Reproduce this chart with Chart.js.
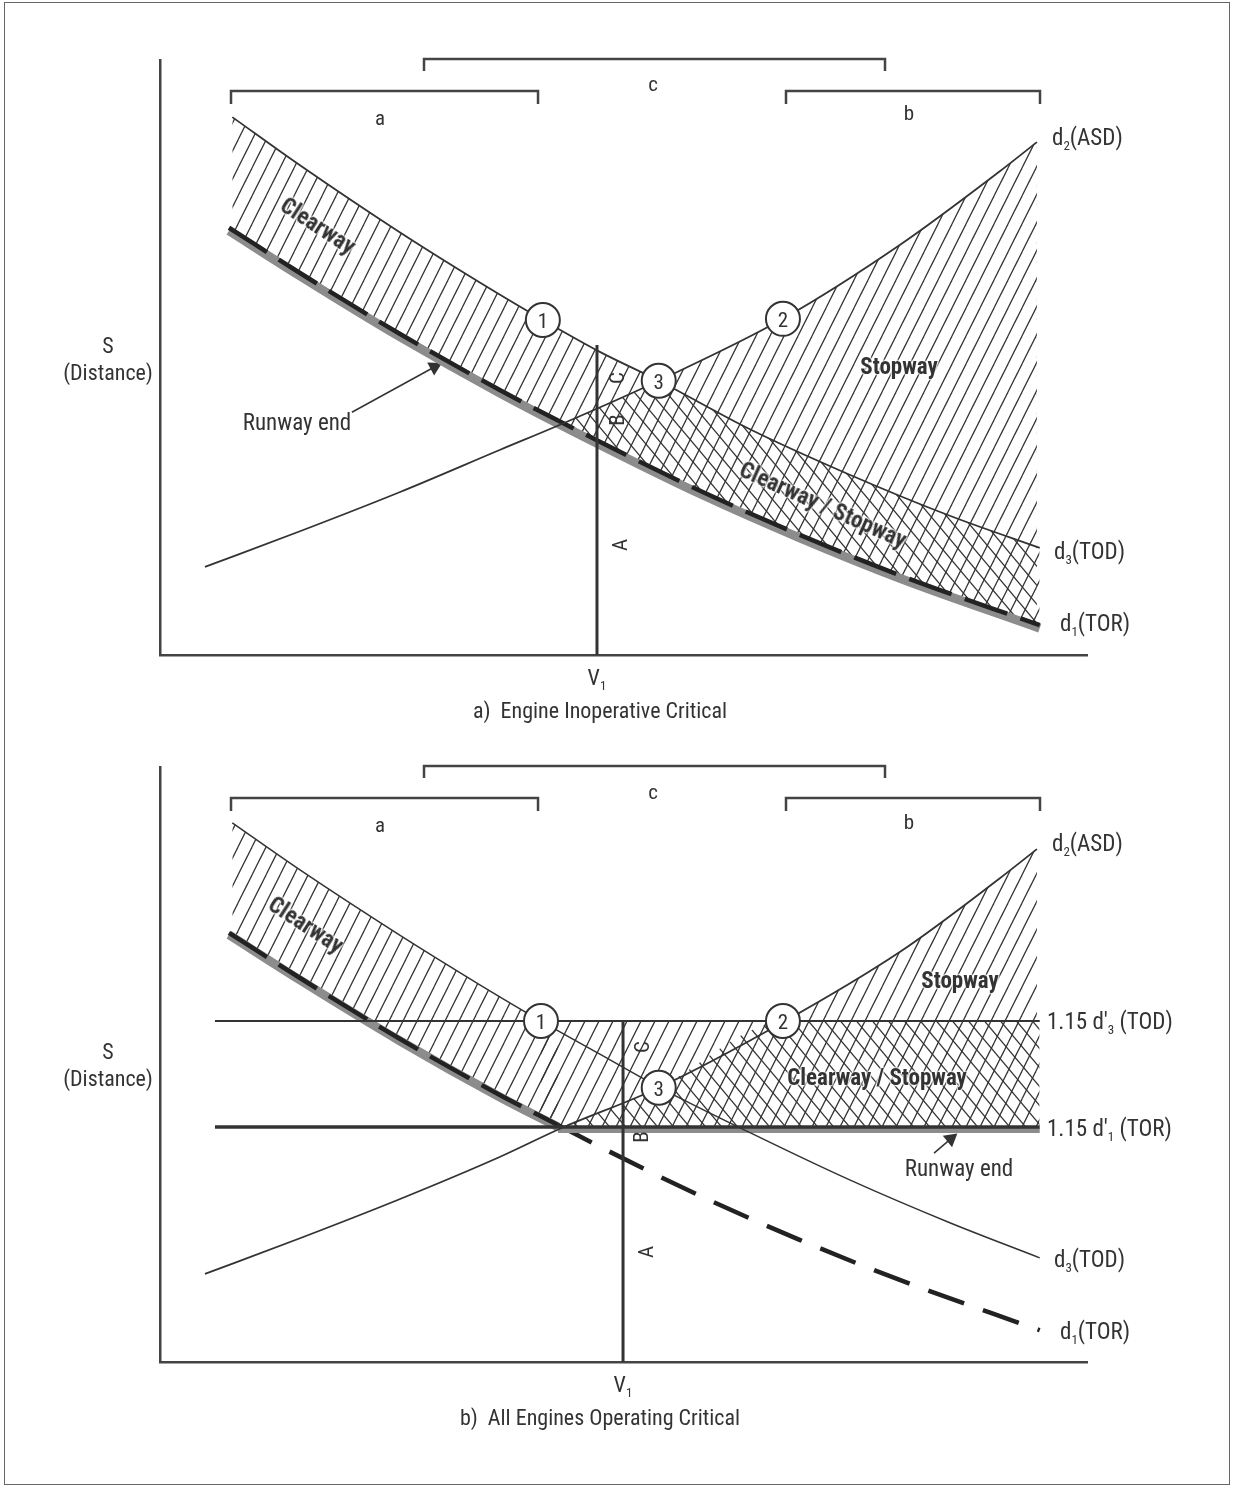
<!DOCTYPE html>
<html><head><meta charset="utf-8">
<script src="https://cdn.jsdelivr.net/npm/chart.js@4.4.1/dist/chart.umd.min.js"></script>
<style>
html,body{margin:0;padding:0;background:#fff}
#page{position:relative;width:1233px;height:1489px;overflow:hidden;font-family:"Roboto Condensed","Liberation Sans Narrow","Arial Narrow",Roboto,sans-serif;color:#333}
.frame{position:absolute;left:4px;top:2px;width:1226px;height:1483px;border:1.5px solid #666;box-sizing:border-box}
canvas{position:absolute;left:0}
.t{position:absolute;white-space:nowrap;font-size:23px;line-height:1;transform:translate(-50%,-50%)}
.l{transform:translate(0,-50%)}
.b{font-weight:bold}
.m{font-size:21px}
.cap{font-size:22px}
.rot{transform:translate(-50%,-50%) rotate(-90deg);font-size:21px}
.halo{text-shadow:0 0 3px #fff,0 0 3px #fff,0 0 2px #fff,0 0 2px #fff,0 0 1px #fff}
sub{font-size:13px;vertical-align:-5px;line-height:0}
.num{font-size:21px}
</style></head>
<body>
<div id="page">
<div class="frame"></div>
<canvas id="cA" width="1233" height="705" style="top:0"></canvas>
<canvas id="cB" width="1233" height="705" style="top:707px"></canvas>

<!-- panel a -->
<div class="t m" style="left:380px;top:118px">a</div>
<div class="t m" style="left:653px;top:84px">c</div>
<div class="t m" style="left:909px;top:113px">b</div>
<div class="t l" style="left:1052px;top:137px">d<sub>2</sub>(ASD)</div>
<div class="t l" style="left:1054px;top:551px">d<sub>3</sub>(TOD)</div>
<div class="t l" style="left:1060px;top:623px">d<sub>1</sub>(TOR)</div>
<div class="t cap" style="left:108px;top:346px">S</div>
<div class="t cap" style="left:108px;top:373px">(Distance)</div>
<div class="t cap" style="left:597px;top:678px">V<sub>1</sub></div>
<div class="t cap" style="left:600px;top:711px">a)&nbsp; Engine Inoperative Critical</div>
<div class="t b halo" style="left:318px;top:226px;transform:translate(-50%,-50%) rotate(33deg)">Clearway</div>
<div class="t" style="left:297px;top:422px">Runway end</div>
<div class="t b halo" style="left:899px;top:366px">Stopway</div>
<div class="t b halo" style="left:823px;top:505px;transform:translate(-50%,-50%) rotate(24deg)">Clearway / Stopway</div>
<div class="t rot" style="left:617px;top:378px">C</div>
<div class="t rot" style="left:617px;top:420px">B</div>
<div class="t rot" style="left:620px;top:545px">A</div>

<!-- panel b -->
<div class="t m" style="left:380px;top:825px">a</div>
<div class="t m" style="left:653px;top:792px">c</div>
<div class="t m" style="left:909px;top:822px">b</div>
<div class="t l" style="left:1052px;top:843px">d<sub>2</sub>(ASD)</div>
<div class="t l" style="left:1047px;top:1021px">1.15 d′<sub>3</sub> (TOD)</div>
<div class="t l" style="left:1047px;top:1128px">1.15 d′<sub>1</sub> (TOR)</div>
<div class="t" style="left:959px;top:1168px">Runway end</div>
<div class="t l" style="left:1054px;top:1259px">d<sub>3</sub>(TOD)</div>
<div class="t l" style="left:1060px;top:1331px">d<sub>1</sub>(TOR)</div>
<div class="t cap" style="left:108px;top:1052px">S</div>
<div class="t cap" style="left:108px;top:1079px">(Distance)</div>
<div class="t cap" style="left:623px;top:1385px">V<sub>1</sub></div>
<div class="t cap" style="left:600px;top:1418px">b)&nbsp; All Engines Operating Critical</div>
<div class="t b halo" style="left:306px;top:925px;transform:translate(-50%,-50%) rotate(33deg)">Clearway</div>
<div class="t b halo" style="left:960px;top:980px">Stopway</div>
<div class="t b halo" style="left:877px;top:1077px">Clearway / Stopway</div>
<div class="t rot" style="left:642px;top:1047px">C</div>
<div class="t rot" style="left:641px;top:1137px">B</div>
<div class="t rot" style="left:646px;top:1252px">A</div>
</div>

<script>
// ---------- DATA (speed units 0-100 on x, distance units 0-100 on y) ----------
// Panel a: Engine Inoperative Critical
const d3A = [{x:7.8,y:90.4},{x:15.1,y:82.3},{x:25.9,y:71.0},{x:34.5,y:62.6},{x:41.3,y:56.3},{x:47.5,y:50.9},{x:53.8,y:46.1},{x:63.7,y:37.9},{x:74.4,y:30.3},{x:85.2,y:23.4},{x:94.9,y:18.0}];
const d2A = [{x:4.85,y:14.8},{x:15.1,y:20.8},{x:25.9,y:27.4},{x:36.7,y:34.5},{x:43.15,y:38.7},{x:53.8,y:46.1},{x:67.2,y:56.5},{x:79.8,y:68.9},{x:90.6,y:81.3},{x:94.6,y:86.2}];
const d1A = [{x:7.44,y:71.3},{x:15.1,y:63.7},{x:25.9,y:53.45},{x:36.7,y:44.0},{x:47.5,y:35.3},{x:58.25,y:27.1},{x:69.0,y:19.7},{x:79.8,y:12.9},{x:94.9,y:4.5}];
const circlesA = [{x:41.3,y:56.3},{x:67.2,y:56.5},{x:53.8,y:46.1}];
const v1A = 47.14, v1TopA = 52.1;
const arrowA = [{x:20.7,y:40.8},{x:29.6,y:48.4}];

// Panel b: All Engines Operating Critical
const d3B = [{x:7.8,y:90.6},{x:15.1,y:82.7},{x:25.9,y:71.7},{x:34.5,y:63.4},{x:41.1,y:57.3},{x:47.5,y:51.7},{x:53.8,y:46.2},{x:63.7,y:38.5},{x:74.4,y:30.6},{x:85.2,y:23.4},{x:94.9,y:17.5}];
const d2B = [{x:4.85,y:14.8},{x:15.1,y:20.8},{x:25.9,y:27.4},{x:36.7,y:34.5},{x:43.15,y:39.2},{x:53.8,y:46.1},{x:67.2,y:57.1},{x:79.8,y:68.9},{x:90.6,y:81.3},{x:94.6,y:86.2}];
const d1B = [{x:7.44,y:71.8},{x:15.1,y:64.2},{x:25.9,y:53.95},{x:36.7,y:44.5},{x:42.93,y:39.5},{x:47.5,y:35.8},{x:58.25,y:27.6},{x:69.0,y:20.2},{x:79.8,y:13.45},{x:94.9,y:5.0}];
const tod115 = 57.31, tor115 = 39.5;           // 1.15 d'3 (TOD), 1.15 d'1 (TOR)
const limitsB = [5.93, 94.9];                   // x extent of the 1.15 lines
const runwayEndB = 42.93;                       // where d1 meets 1.15 d'1
const circlesB = [{x:41.1,y:57.31},{x:67.2,y:57.31},{x:53.8,y:46.1}];
const v1B = 49.95;
const arrowB = [{x:83.5,y:35.1},{x:85.3,y:37.5}];

// Ranges a, b, c (x units)
const rangeA = [7.66, 40.78], rangeC = [28.48, 78.21], rangeB = [67.53, 94.93];
const circleLabels = ['1','2','3'];

// ---------- helpers ----------
const INK = '#333', GRAY = '#8c8c8c', NONE = 'rgba(0,0,0,0)';
function hatch(ctx, w, h, dir, bg){
  const c = document.createElement('canvas'); c.width = w; c.height = h;
  const g = c.getContext('2d');
  if (bg){ g.fillStyle = bg; g.fillRect(0,0,w,h); }
  g.strokeStyle = INK; g.lineWidth = 1.25;
  for (const ox of [-w,0,w]) for (const oy of [-h,0,h]){
    g.beginPath();
    if (dir === '/'){ g.moveTo(ox, oy+h); g.lineTo(ox+w, oy); }
    else { g.moveTo(ox, oy); g.lineTo(ox+w, oy+h); }
    g.stroke();
  }
  return ctx.createPattern(c, 'repeat');
}
const shiftPlugin = {
  id:'shiftY',
  beforeDatasetDraw(chart, args){ const s = chart.data.datasets[args.index].shiftY; if (s){ chart.ctx.save(); chart.ctx.translate(0, s); } },
  afterDatasetDraw(chart, args){ if (chart.data.datasets[args.index].shiftY) chart.ctx.restore(); }
};
function bracket(r, level, drop){
  return {data:[{x:r[0],y:level-drop},{x:r[0],y:level},{x:r[1],y:level},{x:r[1],y:level-drop}],
    borderColor:'#444', borderWidth:2.5, fill:false, clip:false, borderJoinStyle:'miter'};
}
function brackets(){ return [bracket(rangeA,94.8,2.2), bracket(rangeC,100.15,2.0), bracket(rangeB,94.8,2.2)]; }
function arrow(data, rot){
  return {data, borderColor:INK, borderWidth:1.5, fill:false, clip:false,
    pointRadius:[0,7], pointStyle:'triangle', pointRotation:rot, pointBackgroundColor:INK, pointBorderColor:INK};
}
function circles(data){
  return {data, showLine:false, fill:false, clip:false, pointRadius:17, pointHoverRadius:17,
    pointBackgroundColor:'#fff', pointBorderColor:INK, pointBorderWidth:2};
}
const axis = {type:'linear', min:0, max:100, grid:{display:false, drawTicks:false}, ticks:{display:false},
  border:{display:true, color:'#444', width:2.5}};
function build(id, datasets){
  return new Chart(document.getElementById(id), {
    type:'line', data:{datasets},
    options:{responsive:false, animation:false, events:[], devicePixelRatio:1,
      layout:{padding:{left:160, right:146, top:60, bottom:50}},
      elements:{point:{radius:0}, line:{fill:false}},
      plugins:{legend:{display:false}, tooltip:{enabled:false}, filler:{drawTime:'beforeDatasetsDraw'}},
      scales:{x:axis, y:axis}},
    plugins:[shiftPlugin]
  });
}
function placeNumbers(chart, pts, top){
  const page = document.getElementById('page');
  pts.forEach((p,i)=>{
    const d = document.createElement('div');
    d.className = 't num';
    d.textContent = circleLabels[i];
    d.style.left = chart.scales.x.getPixelForValue(p.x) + 'px';
    d.style.top = (top + chart.scales.y.getPixelForValue(p.y) + 1) + 'px';
    page.appendChild(d);
  });
}
const curve = {cubicInterpolationMode:'monotone'};

// ---------- panel a ----------
const ctxA = document.getElementById('cA').getContext('2d');
const slashA = hatch(ctxA, 14, 28, '/'), slashWA = hatch(ctxA, 14, 28, '/', '#fff'), backA = hatch(ctxA, 16, 19, '\\');
const chartA = build('cA', [
  circles(circlesA),                                                                         // 0
  {data:[{x:v1A,y:0},{x:v1A,y:v1TopA}], borderColor:INK, borderWidth:3, fill:false},          // 1
  {...curve, data:d3A, borderColor:INK, borderWidth:1.8, fill:{target:6, above:slashA, below:NONE}}, // 2 clearway
  {...curve, data:d2A, borderColor:INK, borderWidth:1.8, fill:{target:2, above:slashWA, below:NONE}}, // 3 stopway
  {...curve, data:d2A, borderColor:NONE, borderWidth:1, fill:{target:6, above:backA, below:NONE}},   // 4 cross
  {...curve, data:d1A, borderColor:'#222', borderWidth:4.5, borderDash:[45,14], fill:false, shiftY:-3}, // 5
  {...curve, data:d1A, borderColor:GRAY, borderWidth:9, fill:false},                          // 6
  ...brackets(),
  arrow(arrowA, 62)
]);
placeNumbers(chartA, circlesA, 0);

// ---------- panel b ----------
const ctxB = document.getElementById('cB').getContext('2d');
const slashB = hatch(ctxB, 14, 28, '/'), backB = hatch(ctxB, 16, 19, '\\');
const h1B = [{x:limitsB[0],y:tor115},{x:limitsB[1],y:tor115}];
const h3B = [{x:limitsB[0],y:tod115},{x:limitsB[1],y:tod115}];
const h3RightB = [{x:circlesB[0].x,y:tod115},{x:limitsB[1],y:tod115}];            // from point 1 to the right
const crossTopB = [...d2B.filter(p => p.x <= circlesB[1].x), {x:limitsB[1],y:tod115}]; // d2 up to point 2, then 1.15 d'3
const d1LeftB = d1B.filter(p => p.x <= runwayEndB);                                 // d1 up to the runway end
const chartB = build('cB', [
  circles(circlesB),                                                                          // 0
  {data:[{x:v1B,y:0},{x:v1B,y:tod115}], borderColor:INK, borderWidth:3, fill:false},           // 1
  {data:h1B, borderColor:INK, borderWidth:3.5, fill:false},                                    // 2
  {...curve, data:d2B, borderColor:INK, borderWidth:1.8, fill:{target:5, above:slashB, below:NONE}}, // 3 stopway
  {...curve, data:d3B, borderColor:INK, borderWidth:1.5, fill:{target:9, above:slashB, below:NONE}},  // 4 clearway
  {data:h3B, borderColor:INK, borderWidth:2, fill:false},                                      // 5
  {data:h3RightB, borderColor:NONE, borderWidth:1, fill:{target:2, above:slashB, below:NONE}},  // 6
  {...curve, data:crossTopB, borderColor:NONE, borderWidth:1, fill:{target:2, above:backB, below:NONE}}, // 7 cross
  {data:[{x:runwayEndB,y:tor115},{x:limitsB[1],y:tor115}], borderColor:GRAY, borderWidth:5, fill:false, shiftY:3.5}, // 8
  {...curve, data:d1LeftB, borderColor:NONE, borderWidth:1, fill:false},                      // 9 helper
  {...curve, data:d1B, borderColor:'#222', borderWidth:4.5, fill:false, shiftY:-2,
    segment:{borderDash: c => c.p0.parsed.x >= runwayEndB - 1e-6 ? [38,20] : [45,14]}},        // 10
  {...curve, data:d1B, borderColor:GRAY, borderWidth:9, fill:false,
    segment:{borderColor: c => c.p0.parsed.x >= runwayEndB - 1e-6 ? NONE : GRAY}},             // 11
  ...brackets(),
  arrow(arrowB, 51)
]);
placeNumbers(chartB, circlesB, 707);
</script>
</body></html>
